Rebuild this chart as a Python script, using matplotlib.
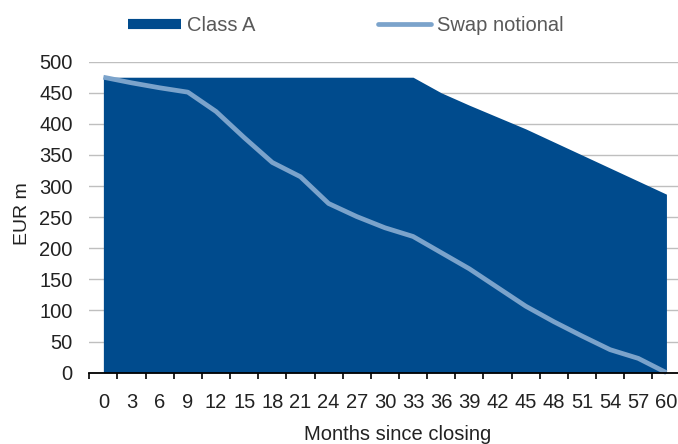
import matplotlib
matplotlib.use("Agg")
import matplotlib.pyplot as plt
from matplotlib.lines import Line2D

plt.rcParams.update({"font.family": ["Liberation Sans", "DejaVu Sans"], "font.size": 14.5})

# months since closing (quarterly points)
months = [0, 3, 6, 9, 12, 15, 18, 21, 24, 27, 30, 33, 36, 39, 42, 45, 48, 51, 54, 57, 60]
class_a = [475, 475, 475, 475, 475, 475, 475, 475, 475, 475, 475, 475,
           450, 430, 411, 392, 371, 350, 329, 308, 287]
swap_notional = [475, 466, 458, 451, 420, 378, 338, 315, 272, 251, 233, 219,
                 193, 167, 137, 107, 82, 59, 37, 23, 0]
yticks = [0, 50, 100, 150, 200, 250, 300, 350, 400, 450, 500]

DARK = "#004B8D"
LIGHT = "#7BA3CB"
GRID = "#BFBFBF"
TXT = "#222222"

fig = plt.figure(figsize=(6.78, 4.44), dpi=100)
ax = fig.add_axes([0.1317, 0.1606, 0.872, 0.7005])

ax.fill_between(months, class_a, 0, color=DARK, lw=0, zorder=2)
ax.plot(months, swap_notional, color=LIGHT, lw=3.4, solid_capstyle="butt",
        solid_joinstyle="round", zorder=3, clip_on=False)

ax.set_xlim(-1.5, 61.5)
ax.set_ylim(0, 500)
ax.set_yticks(yticks)
ax.yaxis.grid(True, color=GRID, lw=1.0, zorder=0)
ax.set_axisbelow(True)

# category labels at point centres, tick marks on the category boundaries
ax.set_xticks(months)
ax.set_xticklabels([str(m) for m in months])
ax.set_xticks([m - 1.5 for m in months] + [61.5], minor=True)
ax.tick_params(axis="x", which="major", length=0, pad=14.5, labelsize=14.5, colors=TXT)
ax.tick_params(axis="x", which="minor", length=4, width=1.2, color="black", direction="out")
ax.tick_params(axis="y", length=0, pad=12, labelsize=14.5, colors=TXT)

for s in ["top", "right", "left"]:
    ax.spines[s].set_visible(False)
ax.spines["bottom"].set_color("black")
ax.spines["bottom"].set_linewidth(1.3)
ax.spines["bottom"].set_zorder(4)

ax.set_ylabel("EUR m", fontsize=14, color=TXT)
ax.yaxis.set_label_coords(-0.098, 0.51)
ax.set_xlabel("Months since closing", fontsize=14.5, color=TXT)
ax.xaxis.set_label_coords(0.522, -0.167)

handles = [
    Line2D([], [], color=DARK, lw=7.3, solid_capstyle="butt"),
    Line2D([], [], color=LIGHT, lw=3.4, solid_capstyle="round"),
]
fig.legend(handles, ["Class A", "Swap notional"], ncol=2, frameon=False,
           loc="center left", bbox_to_anchor=(0.189, 0.943),
           handlelength=2.6, handletextpad=0.33, columnspacing=6.1,
           borderpad=0, borderaxespad=0, labelcolor="#595959", fontsize=14.5)

fig.savefig("out.png", dpi=100)
